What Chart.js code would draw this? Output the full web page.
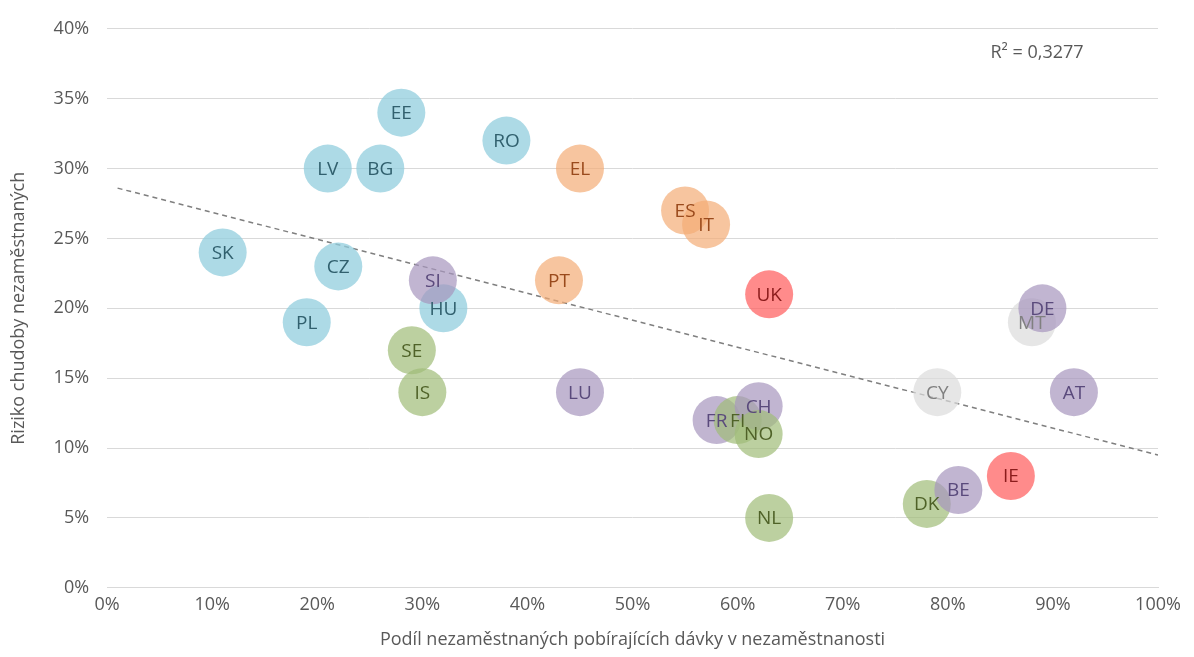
<!DOCTYPE html>
<html><head><meta charset="utf-8">
<script src="https://cdn.jsdelivr.net/npm/chart.js@4"></script>
<style>body{margin:0;background:#fff}</style></head>
<body><canvas id="c" width="1194" height="657"></canvas>
<script>
const codes = ["SK","PL","LV","CZ","BG","EE","HU","RO","SI","SE","IS","PT","EL","LU","ES","IT","UK","FR","FI","CH","NO","NL","CY","DK","BE","IE","MT","DE","AT"];
const xVals = [11,19,21,22,26,28,32,38,31,29,30,43,45,45,55,57,63,58,60,62,62,63,79,78,81,86,88,89,92];
const yVals = [24,19,30,23,30,34,20,32,22,17,14,22,30,14,27,26,21,12,12,13,11,5,14,6,7,8,19,20,14];
const grp = ["blue","blue","blue","blue","blue","blue","blue","blue","purple","green","green","orange","orange","purple","orange","orange","red","purple","green","purple","green","green","grey","green","purple","red","grey","purple","purple"];
const trendX = [1,100], trendY = [28.6,9.5];
const fill = {blue:"rgba(146,205,222,0.75)",purple:"rgba(166,150,190,0.7)",green:"rgba(160,188,120,0.7)",orange:"rgba(244,172,118,0.7)",red:"rgba(255,90,90,0.7)",grey:"rgba(220,220,220,0.7)"};
const txt = {blue:"#31606e",purple:"#5a4a7c",green:"#4f6228",orange:"#9a4a1c",red:"#8b1c1c",grey:"#808080"};
const pts = codes.map((c,i)=>({x:xVals[i],y:yVals[i],c,g:grp[i]}));
const labels = {id:"lbl",afterDatasetsDraw(ch){const ctx=ch.ctx;const m=ch.getDatasetMeta(1);ctx.save();ctx.font="19px 'Open Sans'";ctx.textAlign="center";ctx.textBaseline="middle";
 m.data.forEach((el,i)=>{ctx.fillStyle=txt[pts[i].g];ctx.fillText(pts[i].c,el.x,el.y+1);});
 ctx.fillStyle="#595959";ctx.font="18px 'Open Sans'";ctx.fillText("R² = 0,3277",1037,53);ctx.restore();}};
new Chart(document.getElementById("c"),{type:"scatter",
 data:{datasets:[
  {type:"line",data:trendX.map((x,i)=>({x,y:trendY[i]})),borderColor:"#7f7f7f",borderDash:[5,4],borderWidth:1.5,pointRadius:0,order:2},
  {data:pts,pointRadius:24,pointHoverRadius:24,backgroundColor:pts.map(p=>fill[p.g]),borderWidth:0,order:1}]},
 options:{responsive:false,animation:false,devicePixelRatio:1,
  layout:{padding:{top:12,right:36,left:4,bottom:2}},
  plugins:{legend:{display:false},tooltip:{enabled:false}},
  scales:{
   x:{min:0,max:100,ticks:{stepSize:10,maxRotation:0,padding:6,callback:v=>v+"%",color:"#595959",font:{size:18,family:"Open Sans"}},grid:{display:false,drawTicks:false},border:{color:"#d9d9d9"},
      title:{display:true,text:"Podíl nezaměstnaných pobírajících dávky v nezaměstnanosti",color:"#595959",font:{size:18,family:"Open Sans"},padding:{top:8}}},
   y:{min:0,max:40,ticks:{stepSize:5,padding:18,callback:v=>v+"%",color:"#595959",font:{size:18,family:"Open Sans"}},grid:{color:"#d9d9d9",drawTicks:false},border:{display:false},
      title:{display:true,text:"Riziko chudoby nezaměstnaných",color:"#595959",font:{size:18,family:"Open Sans"},padding:{bottom:6}}}}},
 plugins:[labels]});
</script></body></html>
